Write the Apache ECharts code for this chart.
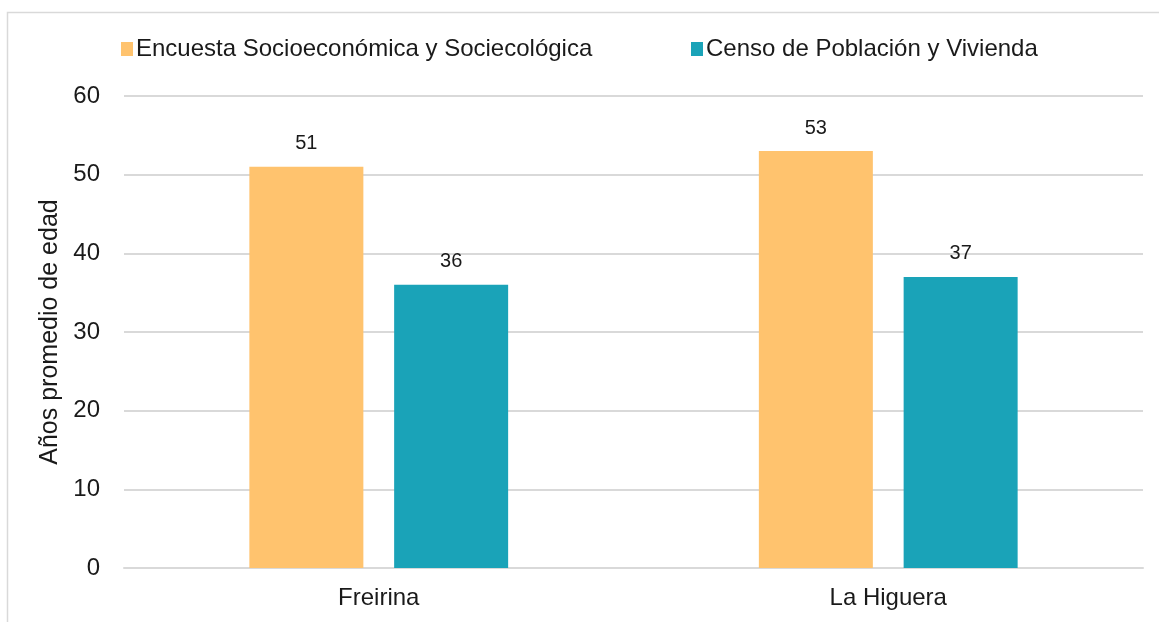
<!DOCTYPE html>
<html>
<head>
<meta charset="utf-8">
<script src="https://cdn.jsdelivr.net/npm/echarts@6/dist/echarts.min.js"></script>
<style>
  html, body { margin: 0; padding: 0; background: #fff; }
  #chart { width: 1159px; height: 622px; }
</style>
</head>
<body>
<div id="chart"></div>
<script>
// datos
const categories = ["Freirina", "La Higuera"];
const seriesNames = ["Encuesta Socioeconómica y Sociecológica", "Censo de Población y Vivienda"];
const encuesta = [51, 53];
const censo = [36, 37];

const chart = echarts.init(document.getElementById("chart"));
const font = "Liberation Sans, Arial, sans-serif";

// una leyenda por serie para fijar la posición de cada una
function legendAt(name, left) {
  return {
    top: 32,
    left: left,
    itemWidth: 12,
    itemHeight: 14,
    icon: "rect",
    textStyle: { fontSize: 24, color: "#1a1a1a", fontFamily: font, padding: [0, 0, 0, -2] },
    data: [name],
  };
}

const label = { show: true, position: "top", distance: 13, fontSize: 20, color: "#1a1a1a" };

const option = {
  animation: false,
  textStyle: { fontFamily: font },
  graphic: [
    {
      type: "rect",
      shape: { x: 7.5, y: 12.5, width: 1160, height: 620 },
      style: { fill: "none", stroke: "#d9d9d9", lineWidth: 1.5 },
      silent: true,
    },
  ],
  legend: [legendAt(seriesNames[0], 116), legendAt(seriesNames[1], 686)],
  grid: { left: 124, right: 16, top: 96, bottom: 54, containLabel: false },
  xAxis: {
    type: "category",
    data: categories,
    axisLine: { lineStyle: { color: "#d9d9d9", width: 2 } },
    axisTick: { show: false },
    axisLabel: { fontSize: 24, color: "#1a1a1a", margin: 18 },
  },
  yAxis: {
    type: "value",
    min: 0,
    max: 60,
    interval: 10,
    name: "Años promedio de edad",
    nameLocation: "middle",
    nameGap: 58,
    nameTextStyle: { fontSize: 25, color: "#1a1a1a" },
    axisLine: { show: false },
    axisTick: { show: false },
    axisLabel: { fontSize: 24, color: "#1a1a1a", margin: 24 },
    splitLine: { lineStyle: { color: "#d9d9d9", width: 2 } },
  },
  series: [
    {
      name: seriesNames[0],
      type: "bar",
      data: encuesta,
      barWidth: 114,
      barGap: "27%",
      itemStyle: { color: "#FFC36E" },
      label: label,
    },
    {
      name: seriesNames[1],
      type: "bar",
      data: censo,
      barWidth: 114,
      itemStyle: { color: "#1AA3B8" },
      label: label,
    },
  ],
};

chart.setOption(option);
</script>
</body>
</html>
